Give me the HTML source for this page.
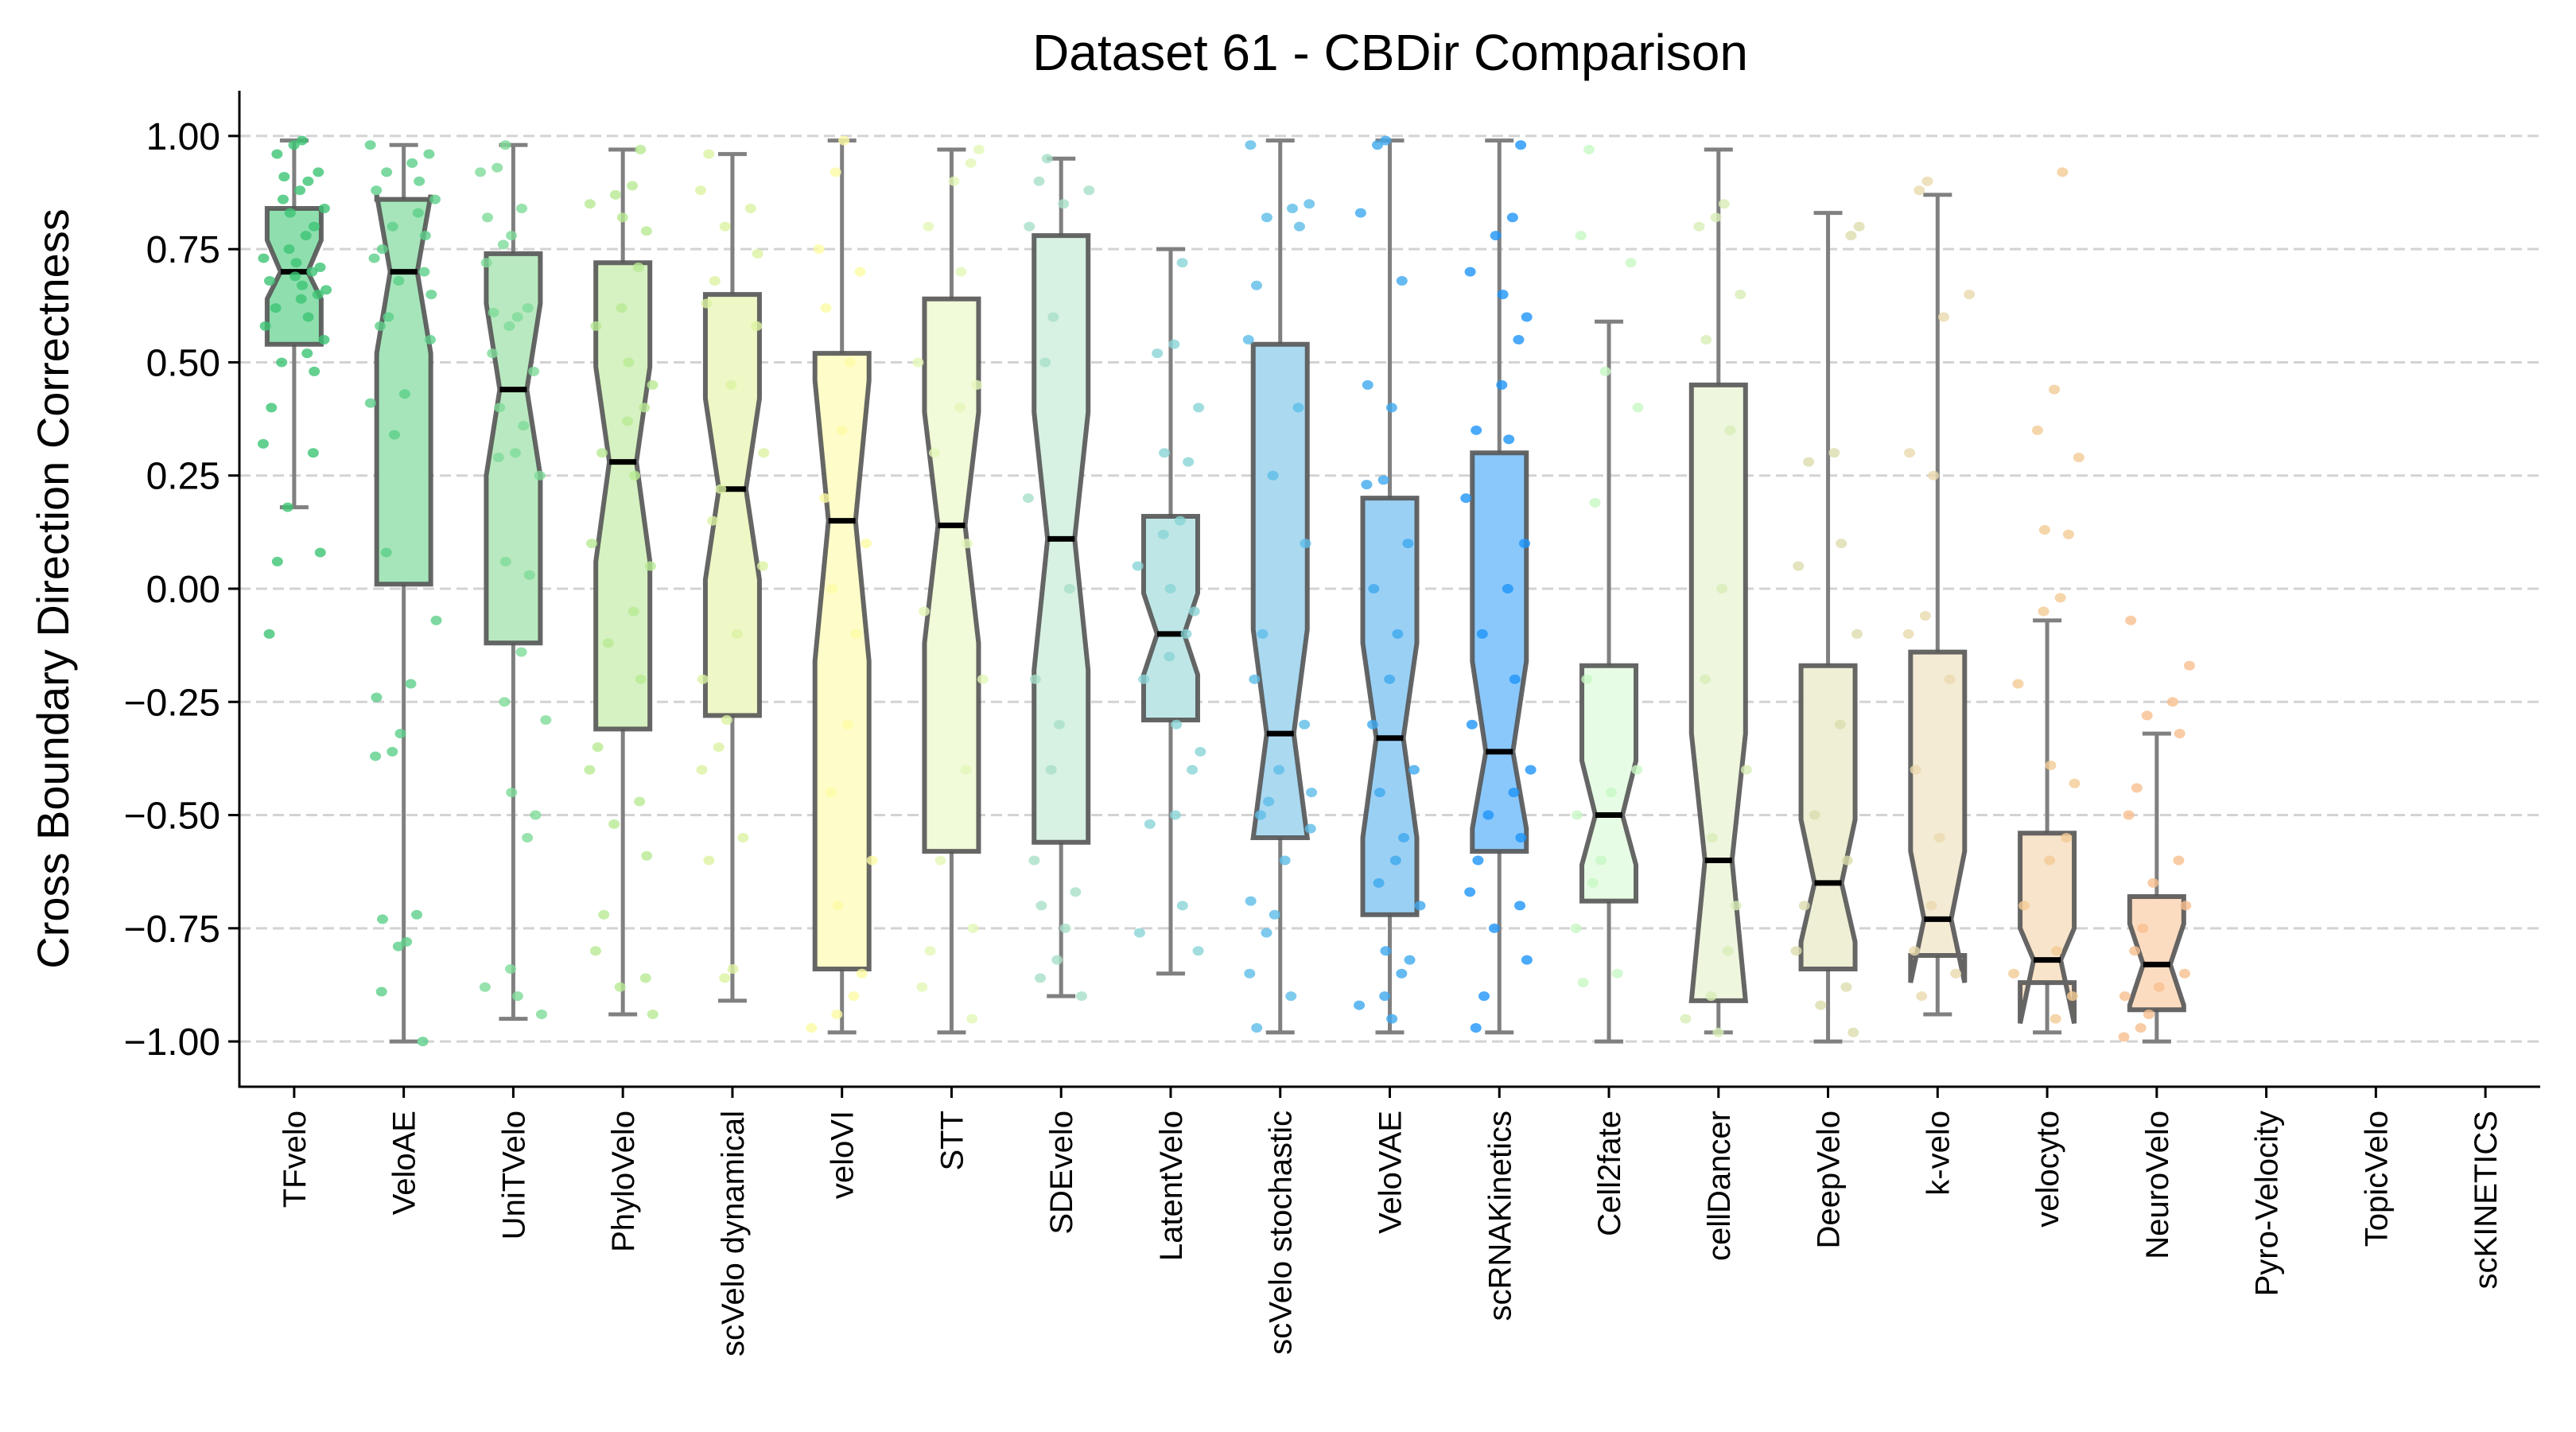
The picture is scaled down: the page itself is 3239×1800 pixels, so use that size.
<!DOCTYPE html>
<html><head><meta charset="utf-8"><style>
html,body{margin:0;padding:0;background:#fff;}
svg{display:block;font-family:"Liberation Sans","DejaVu Sans",sans-serif;}
</style></head><body>
<svg id="chart" width="3239" height="1800" viewBox="0 0 3239 1800" xmlns="http://www.w3.org/2000/svg">
<rect width="3239" height="1800" fill="#fff"/>
<g id="grid"></g>
<g id="boxes"></g>
<g id="points"></g>
<g id="axes"></g>
<text x="1748" y="88" font-size="64" text-anchor="middle">Dataset 61 - CBDir Comparison</text>
<text transform="translate(86,740) rotate(-90)" font-size="56" text-anchor="middle">Cross Boundary Direction Correctness</text>
</svg>
<script>
const categories = ["TFvelo","VeloAE","UniTVelo","PhyloVelo","scVelo dynamical","veloVI","STT","SDEvelo","LatentVelo","scVelo stochastic","VeloVAE","scRNAKinetics","Cell2fate","cellDancer","DeepVelo","k-velo","velocyto","NeuroVelo","Pyro-Velocity","TopicVelo","scKINETICS"];
const whiskerLow = [0.18,-1.00,-0.95,-0.94,-0.91,-0.98,-0.98,-0.90,-0.85,-0.98,-0.98,-0.98,-1.00,-0.98,-1.00,-0.94,-0.98,-1.00,null,null,null];
const q1 = [0.54,0.01,-0.12,-0.31,-0.28,-0.84,-0.58,-0.56,-0.29,-0.55,-0.72,-0.58,-0.69,-0.91,-0.84,-0.81,-0.87,-0.93,null,null,null];
const medians = [0.70,0.70,0.44,0.28,0.22,0.15,0.14,0.11,-0.10,-0.32,-0.33,-0.36,-0.50,-0.60,-0.65,-0.73,-0.82,-0.83,null,null,null];
const q3 = [0.84,0.86,0.74,0.72,0.65,0.52,0.64,0.78,0.16,0.54,0.20,0.30,-0.17,0.45,-0.17,-0.14,-0.54,-0.68,null,null,null];
const whiskerHigh = [0.99,0.98,0.98,0.97,0.96,0.99,0.97,0.95,0.75,0.99,0.99,0.99,0.59,0.97,0.83,0.87,-0.07,-0.32,null,null,null];
const notchLow = [0.64,0.52,0.25,0.06,0.02,-0.16,-0.12,-0.18,-0.19,-0.55,-0.55,-0.53,-0.61,-0.91,-0.78,-0.87,-0.96,-0.92,null,null,null];
const notchHigh = [0.77,0.87,0.63,0.49,0.42,0.46,0.39,0.39,-0.01,-0.09,-0.12,-0.16,-0.38,-0.32,-0.51,-0.58,-0.75,-0.74,null,null,null];
const boxFill = ["#8fdfae","#a6e5ba","#b9e9c0","#d6f2c2","#eef7c6","#fefdc9","#f1fad9","#d7f1e3","#bfe6e6","#aad9f0","#9bd0f5","#8ac8fc","#e7fce5","#eef6de","#efefd6","#f4ebd5","#f8e4ca","#fcdcc1","#eee","#eee","#eee"];
const pointColor = ["#3cc474","#5cd08a","#7edb98","#b8ea93","#dcf3a1","#fdfba5","#e3f7b8","#a7e0c8","#8ad5d6","#5ebde8","#3fa9ee","#1e95f8","#c8f8c4","#d8edb6","#dcdcae","#ead9ae","#f3cb95","#f8bf8e","#ccc","#ccc","#ccc"];
const pts0 = [0.99,0.98,0.96,0.92,0.91,0.90,0.88,0.86,0.84,0.83,0.80,0.78,0.75,0.73,0.72,0.71,0.70,0.69,0.68,0.67,0.66,0.65,0.64,0.62,0.60,0.58,0.55,0.52,0.50,0.48,0.40,0.32,0.30,0.18,0.08,0.06,-0.10];
const pts1 = [0.98,0.96,0.94,0.92,0.90,0.88,0.86,0.83,0.80,0.78,0.75,0.73,0.70,0.68,0.65,0.60,0.58,0.55,0.43,0.41,0.34,0.08,-0.07,-0.21,-0.24,-0.32,-0.36,-0.37,-0.72,-0.73,-0.78,-0.79,-0.89,-1.00];
const pts2 = [0.98,0.93,0.92,0.84,0.82,0.78,0.76,0.72,0.62,0.61,0.60,0.58,0.52,0.48,0.40,0.36,0.30,0.29,0.25,0.06,0.03,-0.14,-0.25,-0.29,-0.45,-0.50,-0.55,-0.84,-0.88,-0.90,-0.94];
const pts3 = [0.97,0.89,0.87,0.85,0.82,0.79,0.71,0.62,0.58,0.50,0.45,0.40,0.37,0.30,0.25,0.10,0.05,-0.05,-0.12,-0.20,-0.35,-0.40,-0.47,-0.52,-0.59,-0.72,-0.80,-0.86,-0.88,-0.94];
const pts4 = [0.96,0.88,0.84,0.80,0.74,0.68,0.63,0.58,0.45,0.30,0.22,0.15,0.05,-0.10,-0.20,-0.29,-0.35,-0.40,-0.55,-0.60,-0.84,-0.86];
const pts5 = [0.99,0.92,0.75,0.70,0.62,0.50,0.35,0.20,0.10,0.00,-0.10,-0.30,-0.45,-0.60,-0.70,-0.85,-0.90,-0.94,-0.97];
const pts6 = [0.97,0.94,0.90,0.80,0.70,0.50,0.45,0.40,0.30,0.10,-0.05,-0.20,-0.40,-0.60,-0.75,-0.80,-0.88,-0.95];
const pts7 = [0.95,0.90,0.88,0.85,0.80,0.60,0.50,0.20,0.00,-0.20,-0.30,-0.40,-0.60,-0.67,-0.70,-0.75,-0.82,-0.86,-0.90];
const pts8 = [0.72,0.54,0.52,0.40,0.30,0.28,0.15,0.12,0.05,0.00,-0.05,-0.10,-0.15,-0.20,-0.30,-0.36,-0.40,-0.50,-0.52,-0.70,-0.76,-0.80];
const pts9 = [0.98,0.85,0.84,0.82,0.80,0.67,0.55,0.40,0.25,0.10,-0.10,-0.20,-0.30,-0.40,-0.45,-0.47,-0.50,-0.53,-0.60,-0.69,-0.72,-0.76,-0.85,-0.90,-0.97];
const pts10 = [0.99,0.98,0.83,0.68,0.45,0.40,0.24,0.23,0.10,0.00,-0.10,-0.20,-0.30,-0.40,-0.45,-0.55,-0.60,-0.65,-0.70,-0.80,-0.82,-0.85,-0.90,-0.92,-0.95];
const pts11 = [0.98,0.82,0.78,0.70,0.65,0.60,0.55,0.45,0.35,0.33,0.20,0.10,0.00,-0.10,-0.20,-0.30,-0.40,-0.45,-0.50,-0.55,-0.60,-0.67,-0.70,-0.75,-0.82,-0.90,-0.97];
const pts12 = [0.97,0.78,0.72,0.48,0.40,0.19,-0.20,-0.40,-0.45,-0.50,-0.60,-0.65,-0.75,-0.85,-0.87];
const pts13 = [0.85,0.82,0.80,0.65,0.55,0.35,0.00,-0.20,-0.40,-0.55,-0.70,-0.80,-0.90,-0.95,-0.98];
const pts14 = [0.80,0.78,0.30,0.28,0.10,0.05,-0.10,-0.30,-0.50,-0.60,-0.70,-0.80,-0.88,-0.92,-0.98];
const pts15 = [0.90,0.88,0.65,0.60,0.30,0.25,-0.06,-0.10,-0.20,-0.40,-0.55,-0.70,-0.80,-0.85,-0.90];
const pts16 = [0.92,0.44,0.35,0.29,0.13,0.12,-0.02,-0.05,-0.21,-0.39,-0.43,-0.55,-0.60,-0.70,-0.80,-0.85,-0.90,-0.95];
const pts17 = [-0.07,-0.17,-0.25,-0.28,-0.32,-0.44,-0.50,-0.60,-0.65,-0.70,-0.75,-0.80,-0.85,-0.88,-0.90,-0.94,-0.97,-0.99];
const pointSets = [pts0,pts1,pts2,pts3,pts4,pts5,pts6,pts7,pts8,pts9,pts10,pts11,pts12,pts13,pts14,pts15,pts16,pts17,[],[],[]];
const yTicks = [-1.00,-0.75,-0.50,-0.25,0.00,0.25,0.50,0.75,1.00];
const yTickLabels = ["\u22121.00","\u22120.75","\u22120.50","\u22120.25","0.00","0.25","0.50","0.75","1.00"];

const NS = "http://www.w3.org/2000/svg";
const AX = {left:301, right:3194, top:114, bottom:1366};
const yMin=-1.1, yMax=1.1;
function yScale(v){ return AX.bottom - (v - yMin)/(yMax-yMin)*(AX.bottom-AX.top); }
function xScale(i){ const step=(AX.right-AX.left)/categories.length; return AX.left + step*(i+0.5); }
function mk(tag, attrs, parent){ const e=document.createElementNS(NS,tag); for(const k in attrs) e.setAttribute(k,attrs[k]); parent.appendChild(e); return e; }
function jitter(i,j){ const f=((j+1)*0.6180339887 + i*0.3819660113 + ((j*j*7)%5)*0.13) % 1; return (f*2-1)*42; }

const grid=document.getElementById('grid'), boxes=document.getElementById('boxes'), points=document.getElementById('points'), axes=document.getElementById('axes');

yTicks.forEach((t,i)=>{
  const y=yScale(t);
  const g=mk('line',{x1:AX.left,x2:AX.right,y1:y,y2:y,stroke:'#d3d3d3','stroke-width':3,'stroke-dasharray':'14,7'},grid);
  
  
  const tk=mk('line',{x1:AX.left-14,x2:AX.left,y1:y,y2:y,stroke:'#000','stroke-width':3},axes);
  
  
  const lb=mk('text',{x:AX.left-24,y:y+17,'font-size':48,'text-anchor':'end'},axes);
  lb.textContent=yTickLabels[i];
  
  
});

const HW=34, NW=17, CAP=18;
categories.forEach((c,i)=>{
  const x=xScale(i);
  if(whiskerLow[i]!==null){
    const wl=mk('line',{x1:x,x2:x,y1:yScale(whiskerLow[i]),y2:yScale(q1[i]),stroke:'#808080','stroke-width':5},boxes);
    
    
    const wh=mk('line',{x1:x,x2:x,y1:yScale(q3[i]),y2:yScale(whiskerHigh[i]),stroke:'#808080','stroke-width':5},boxes);
    
    
    [whiskerLow[i],whiskerHigh[i]].forEach(v=>{
      const cp=mk('line',{x1:x-CAP,x2:x+CAP,y1:yScale(v),y2:yScale(v),stroke:'#808080','stroke-width':5},boxes);
      
      
    });
    const a=yScale(q1[i]), nl=yScale(notchLow[i]), m=yScale(medians[i]), nh=yScale(notchHigh[i]), b=yScale(q3[i]);
    const d=`M${x-HW},${a} L${x-HW},${nl} L${x-NW},${m} L${x-HW},${nh} L${x-HW},${b} L${x+HW},${b} L${x+HW},${nh} L${x+NW},${m} L${x+HW},${nl} L${x+HW},${a} Z`;
    const bx=mk('path',{d:d,fill:boxFill[i],stroke:'#555','stroke-width':6,'stroke-opacity':0.9,'stroke-linejoin':'miter'},boxes);
    
    
    const md=mk('line',{x1:x-NW,x2:x+NW,y1:m,y2:m,stroke:'#000','stroke-width':7},boxes);
    
    
  }
  pointSets[i].forEach((v,j)=>{
    const p=mk('ellipse',{cx:x+jitter(i,j),cy:yScale(v),rx:7,ry:6,fill:pointColor[i],'fill-opacity':0.8},points);
    
    
  });
  const tk=mk('line',{x1:x,x2:x,y1:AX.bottom,y2:AX.bottom+14,stroke:'#000','stroke-width':3},axes);
  
  
  const lb=mk('text',{transform:`translate(${x+14},${AX.bottom+30}) rotate(-90)`,'font-size':40,'text-anchor':'end'},axes);
  lb.textContent=c;
  
  
});

const la=mk('line',{x1:AX.left,x2:AX.left,y1:AX.top,y2:AX.bottom+1.5,stroke:'#000','stroke-width':3},axes);


const ba=mk('line',{x1:AX.left-1.5,x2:AX.right,y1:AX.bottom,y2:AX.bottom,stroke:'#000','stroke-width':3},axes);


</script>
</body></html>
